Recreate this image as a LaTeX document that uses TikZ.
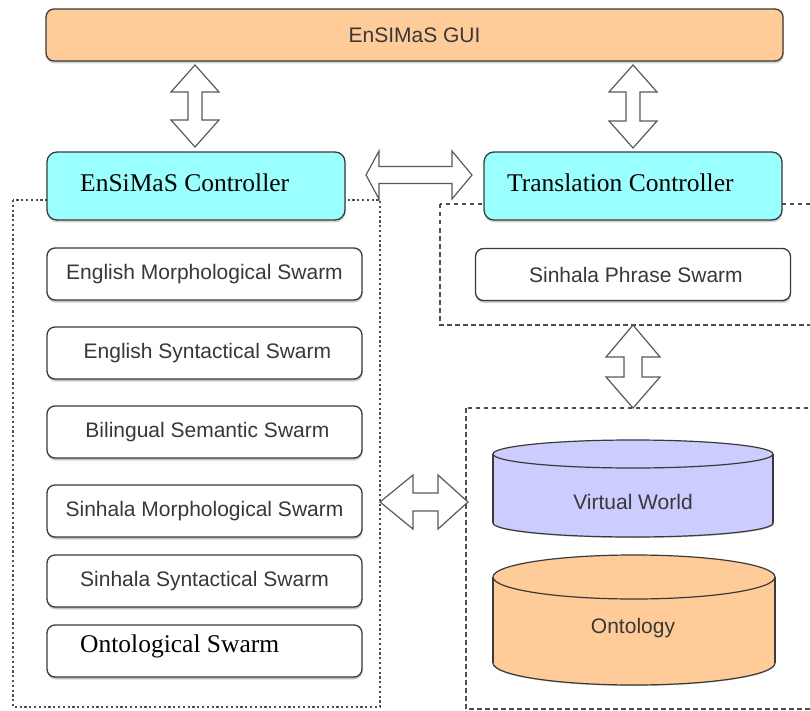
\documentclass[tikz,border=0pt]{standalone}
\usepackage{fontspec}
\setmainfont{Liberation Serif}
\setsansfont{Liberation Sans}
\usetikzlibrary{shadows}
\definecolor{peach}{HTML}{FFCC99}
\definecolor{aqua}{HTML}{99FFFF}
\definecolor{lav}{HTML}{CCCCFF}
\definecolor{txtgrey}{HTML}{383838}
\definecolor{edge}{HTML}{3A3A3A}
\tikzset{
  boxbase/.style={draw=edge, line width=1.3pt, rounded corners=8pt, inner sep=0pt,
    drop shadow={shadow xshift=0.5pt, shadow yshift=-2.5pt, opacity=0.35}},
  guibox/.style={boxbase, fill=peach, minimum width=737, minimum height=52,
    font=\sffamily\fontsize{21}{24}\selectfont, text=txtgrey},
  ctrlbox/.style={boxbase, fill=aqua, rounded corners=10pt, minimum width=298, minimum height=68},
  swarmbox/.style={boxbase, fill=white, minimum width=315, minimum height=52,
    drop shadow={shadow xshift=0pt, shadow yshift=-1.5pt, opacity=0.25},
    font=\sffamily\fontsize{21}{24}\selectfont, text=txtgrey},
  seriftext/.style={font=\rmfamily\fontsize{25.5}{30}\selectfont, text=black, inner sep=0pt, anchor=west},
  cyltext/.style={font=\sffamily\fontsize{21}{24}\selectfont, text=txtgrey, inner sep=0pt},
  dotbox/.style={draw=edge!90, line width=1.5pt, dash pattern=on 2.2pt off 2.6pt},
  dashbox/.style={draw=edge!90, line width=1.3pt, dash pattern=on 4.5pt off 3.5pt},
  blockarrow/.style={draw=black!65, fill=white, line width=1.2pt, line join=miter},
  pics/vdarrow/.style args={#1/#2/#3/#4/#5}{code={
    \draw[blockarrow] (0,0) -- (#4,#2) -- (#5,#2) -- (#5,#1-#3) -- (#4,#1-#3) -- (0,#1)
      -- (-#4,#1-#3) -- (-#5,#1-#3) -- (-#5,#2) -- (-#4,#2) -- cycle;}},
  pics/hdarrow/.style args={#1/#2/#3/#4/#5}{code={
    \draw[blockarrow] (0,0) -- (#2,-#4) -- (#2,-#5) -- (#1-#3,-#5) -- (#1-#3,-#4) -- (#1,0)
      -- (#1-#3,#4) -- (#1-#3,#5) -- (#2,#5) -- (#2,#4) -- cycle;}}
}
\begin{document}
\begin{tikzpicture}[x=1pt,y=-1pt]
\useasboundingbox (0,0) rectangle (810,711);
\clip (0,0) rectangle (810,711);

% containers
\draw[dotbox] (13,200) rectangle (380,707);
\draw[dashbox] (440,204) rectangle (820,325);
\draw[dashbox] (466,408) rectangle (820,709);

% top GUI
\node[guibox] (gui) at (414.5,35) {EnSIMaS GUI};

% controllers
\node[ctrlbox] (ctrlA) at (196,186) {};
\node[seriftext] (ctrlAt) at (80,183) {EnSiMaS Controller};
\node[ctrlbox] (ctrlB) at (633,186) {};
\node[seriftext] (ctrlBt) at (507,183) {Translation Controller};

% swarms (left)
\node[swarmbox] (s1) at (204.5,274) {English Morphological Swarm};
\node[swarmbox] (s2) at (204.5,353) {\ English Syntactical Swarm};
\node[swarmbox] (s3) at (204.5,432) {\ Bilingual Semantic Swarm};
\node[swarmbox] (s4) at (204.5,511) {Sinhala Morphological Swarm};
\node[swarmbox] (s5) at (204.5,581) {Sinhala Syntactical Swarm};
\node[swarmbox] (s6) at (204.5,651) {};
\node[seriftext] (s6t) at (80,646) {Ontological Swarm};

% right swarm
\node[swarmbox] (sp) at (633,274.5) {\ Sinhala Phrase Swarm};

% cylinders
\fill[black, opacity=0.2] (634,524) ellipse [x radius=140, y radius=14];
\fill[lav] (493,454) rectangle (773,523);
\fill[lav] (633,523) ellipse [x radius=140, y radius=14];
\begin{scope}
  \clip (480,523) rectangle (790,545);
  \draw[edge, line width=1.2pt] (633,523) ellipse [x radius=140, y radius=14];
\end{scope}
\draw[edge, line width=1.2pt] (493,454) -- (493,523) (773,454) -- (773,523);
\draw[edge, line width=1.2pt, fill=lav] (633,454) ellipse [x radius=140, y radius=14];
\node[cyltext] (vw) at (633,502) {Virtual World};

\fill[black, opacity=0.2] (634,664) ellipse [x radius=141, y radius=22];
\fill[peach] (493,577) rectangle (775,663);
\fill[peach] (634,663) ellipse [x radius=141, y radius=22];
\begin{scope}
  \clip (480,663) rectangle (790,700);
  \draw[edge, line width=1.2pt] (634,663) ellipse [x radius=141, y radius=22];
\end{scope}
\draw[edge, line width=1.2pt] (493,577) -- (493,663) (775,577) -- (775,663);
\draw[edge, line width=1.2pt, fill=peach] (634,577) ellipse [x radius=141, y radius=22];
\node[cyltext] (onto) at (633,628) {Ontology};

% block arrows
\pic at (195,65) {vdarrow=82/27/27/24/7};
\pic at (633,65) {vdarrow=83/27/27/24/7};
\pic at (633,325) {vdarrow=83/32/31/27/9};
\pic at (366,175) {hdarrow=106/13/20/24/8.5};
\pic at (380,502) {hdarrow=88/33/30/27/9};
\end{tikzpicture}
\end{document}
